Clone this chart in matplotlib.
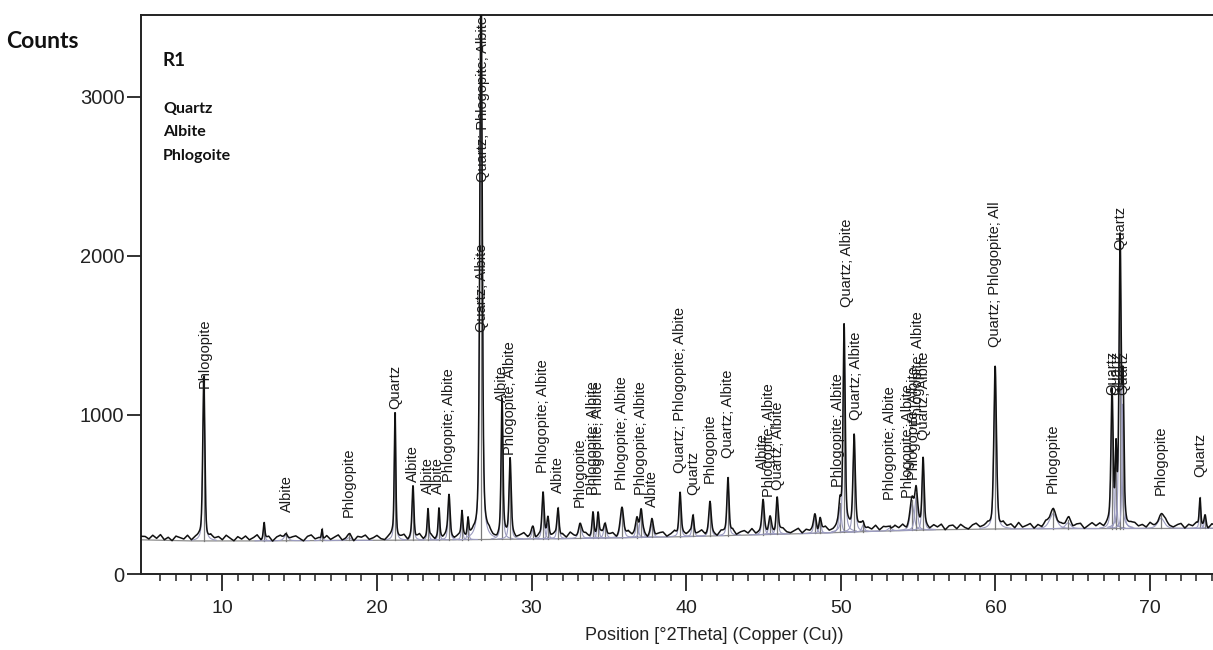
import numpy as np
import matplotlib
matplotlib.use("Agg")
import matplotlib.pyplot as plt
from matplotlib.ticker import FixedLocator

# ---------------- data ----------------
# peak positions [deg 2theta], apex intensity [counts], FWHM [deg]
peak_pos = [8.80, 12.70, 14.12, 16.45, 18.19, 21.17, 22.33, 23.30, 24.01, 24.66,
            25.50, 25.89, 26.73, 28.09, 28.61, 30.09, 30.74, 31.06, 31.71, 33.13,
            33.97, 34.30, 34.75, 35.85, 36.82, 37.08, 37.79, 39.60, 40.44, 41.54,
            42.70, 44.97, 45.42, 45.88, 48.33, 48.66, 49.95, 50.21, 50.86, 51.44,
            53.18, 54.61, 54.87, 55.32, 59.98, 63.73, 64.70, 67.54, 67.80, 68.06,
            68.25, 70.71, 73.23, 73.56]
peak_apex = [1252, 327, 264, 290, 245, 1013, 547, 403, 403, 490,
             371, 340, 3800, 1082, 717, 296, 516, 340, 421, 321,
             384, 384, 327, 415, 340, 409, 333, 516, 377, 447,
             610, 453, 358, 484, 371, 352, 447, 1553, 874, 327,
             308, 465, 509, 730, 1302, 400, 340, 1120, 736, 2070,
             1126, 370, 484, 371]
peak_fwhm = [0.16, 0.12, 0.30, 0.10, 0.30, 0.12, 0.14, 0.12, 0.12, 0.16,
             0.12, 0.12, 0.18, 0.14, 0.16, 0.20, 0.16, 0.14, 0.16, 0.25,
             0.14, 0.14, 0.20, 0.25, 0.20, 0.20, 0.20, 0.16, 0.16, 0.18,
             0.16, 0.18, 0.20, 0.16, 0.20, 0.16, 0.20, 0.16, 0.18, 0.20,
             0.30, 0.30, 0.22, 0.16, 0.20, 0.55, 0.40, 0.16, 0.12, 0.16,
             0.14, 0.50, 0.12, 0.14]

# smooth background (grey line)
bg_pos = [4.74, 8, 12, 16, 20, 24, 28, 32, 36, 40, 44, 48, 52, 56, 60, 64, 68, 74.1]
bg_counts = [215, 208, 208, 210, 212, 214, 218, 222, 228, 235, 245, 255, 268, 278,
             283, 285, 286, 287]
obs_offset = 16  # measured trace sits this far above the background line

# scan-to-scan wiggle of the measured trace (counts), every 0.25 deg from 5 deg
ripple_start, ripple_step = 5.0, 0.25
ripple = [6, -10, 14, -5, 19, -13, 3, -18, 11, 2, -8, 16, -14, 5, 10, -6, -19, 13, -3, 8,
          -11, 18, 0, -16, 10, -5, 14, -10, 3, 21, -13, -2, 11, -19, 6, 16, -8, -14, 5, 13,
          -3, -18, 10, 19, -6, 2, -13, 14, -10, 5, 18, -14, -5, 11, -21, 8, 3, 16, -11, -2,
          13, -8, -16, 6, 21, -10, 0, 14, -19, 10, -5, 18, -13, 3, 11, -16, 8, -6, 19, -2,
          -14, 5, 16, -11, 2, 13, -18, 8, -3, 19, -10, -21, 6, 14, -5, 11, -13, 3, 18, -8,
          10, -19, 5, -6, 16, -2, 13, -14, 8, -11, 21, 0, -16, 6, 14, -10, 3, -5, 18, -13,
          2, 11, -18, 10, -8, 19, -3, 14, -13, 5, -21, 16, -6, 8, 13, -14, 0, 18, -10, 6,
          -5, 14, -16, 3, 19, -11, 10, -2, -19, 13, 5, -8, 16, -14, 2, 11, -6, 21, -10, 0,
          14, -13, 6, -18, 10, 18, -5, -11, 3, 16, -14, 8, -2, 13, -19, 5, 19, -8, -3, 11,
          -16, 6, 14, -10, 0, 21, -13, 5, -6, 18, -11, 10, 2, -18, 13, -3, 16, -14, 8, -5,
          19, -10, 3, -14, 11, -2, 16, -19, 6, 10, -13, 14, -5, -16, 8, 18, -6, 0, 13, -11,
          5, -18, 16, -3, 10, -13, 21, -8, 2, 14, -16, 6, -10, 19, -2, 11, -14, 3, -6, 18,
          -11, 8, 13, -19, 0, 16, -5, 10, -14, 5, 18, -10, -2, 14, -18, 6, 11, -8, 3, -13,
          16, -6, -14, 10, 19, -3, -11, 5, 13, -16, 8, -2, 18, -10, 3, -19, 11, 0]

# peak annotations: position [deg], base of text [counts], text
label_pos = [8.88, 14.18, 18.19, 21.17, 22.33, 23.30, 23.95, 24.66, 26.86, 26.79,
             28.09, 28.61, 30.74, 31.71, 33.13, 33.97, 34.30, 35.85, 37.08, 37.79,
             39.60, 40.44, 41.54, 42.70, 44.97, 45.36, 45.94, 49.82, 50.40, 50.99,
             53.18, 54.35, 54.74, 55.00, 55.40, 59.98, 63.73, 67.54, 67.80, 68.06,
             68.25, 70.71, 73.23]
label_base = [1170, 390, 358, 1038, 579, 503, 503, 579, 2465, 1522,
              1082, 748, 635, 509, 421, 497, 497, 528, 497, 421,
              635, 497, 572, 730, 654, 484, 528, 547, 1679, 968,
              465, 478, 590, 937, 843, 1428, 509, 1126, 1126, 2038,
              1126, 497, 610]
label_text = ["Phlogopite", "Albite", "Phlogopite", "Quartz", "Albite", "Albite", "Albite",
              "Phlogopite; Albite", "Quartz; Phlogopite; Albite", "Quartz; Albite",
              "Albite", "Phlogopite; Albite", "Phlogopite; Albite", "Albite", "Phlogopite",
              "Phlogopite; Albite", "Phlogopite; Albite", "Phlogopite; Albite",
              "Phlogopite; Albite", "Albite", "Quartz; Phlogopite; Albite", "Quartz",
              "Phlogopite", "Quartz; Albite", "Albite", "Phlogopite; Albite",
              "Quartz; Albite", "Phlogopite; Albite", "Quartz; Albite", "Quartz; Albite",
              "Phlogopite; Albite", "Phlogopite; Albite", "Phlogopite; Albite",
              "Phlogopite; Albite", "Quartz; Albite", "Quartz; Phlogopite; All",
              "Phlogopite", "Quartz", "Quartz", "Quartz", "Quartz", "Phlogopite", "Quartz"]

phases = ["Quartz", "Albite", "Phlogoite"]
sample_name = "R1"
x_ticks = [10, 20, 30, 40, 50, 60, 70]
y_ticks = [0, 1000, 2000, 3000]
x_range = (4.74, 74.07)
y_range = (0, 3515)

# ---------------- build the curves ----------------
x = np.arange(x_range[0], x_range[1], 0.01)
bg = np.interp(x, bg_pos, bg_counts)
ripple_x = ripple_start + ripple_step * np.arange(len(ripple))
obs = bg + obs_offset + np.interp(x, ripple_x, ripple)


def profile(xx, pos, fwhm):
    g = np.exp(-4 * np.log(2) * ((xx - pos) / fwhm) ** 2)
    lo = 1.0 / (1.0 + 4 * ((xx - pos) / fwhm) ** 2)
    return 0.5 * g + 0.5 * lo


profiles = []
for p, a, w in zip(peak_pos, peak_apex, peak_fwhm):
    net = a - np.interp(p, bg_pos, bg_counts) - obs_offset
    prof = net * profile(x, p, w)
    profiles.append((p, a, w, prof))
    obs = obs + prof

# ---------------- figure ----------------
W, H = 1213, 650
fig = plt.figure(figsize=(W / 100, H / 100), dpi=100)
ax = fig.add_axes([141 / W, (H - 574) / H, 1 - 141 / W, (574 - 15) / H])
ax.set_xlim(*x_range)
ax.set_ylim(*y_range)

# background line
ax.plot(bg_pos, bg_counts, color="#8c8c8c", lw=0.9, zorder=2)
# individual fitted profiles + sticks
for p, a, w, prof in profiles:
    m = np.abs(x - p) < 5 * w
    ax.plot(x[m], bg[m] + 0.95 * prof[m], color="#9c9cc0", lw=0.8, zorder=2)
    ax.plot([p, p], [np.interp(p, bg_pos, bg_counts), a], color="#7a7a7a", lw=0.9,
            zorder=2)
# measured trace
ax.plot(x, obs, color="#111111", lw=1.1, zorder=3)

# annotations
for p, b, t in zip(label_pos, label_base, label_text):
    ax.text(p, b, t, rotation=90, ha="center", va="bottom", fontsize=10.5,
            family=["Liberation Sans", "DejaVu Sans"], color="#1a1a1a", zorder=4)

# axes styling
ax.spines["right"].set_visible(False)
for s in ["left", "bottom", "top"]:
    ax.spines[s].set_linewidth(1.4)
    ax.spines[s].set_color("#222222")
ax.xaxis.set_major_locator(FixedLocator(x_ticks))
ax.xaxis.set_minor_locator(FixedLocator([v for v in range(6, 75) if v % 10]))
ax.yaxis.set_major_locator(FixedLocator(y_ticks))
ax.tick_params(axis="x", which="major", direction="out", length=12, width=1.3,
               pad=7, labelsize=14, colors="#222222")
ax.tick_params(axis="x", which="minor", direction="out", length=5, width=1.1,
               colors="#222222")
ax.tick_params(axis="y", which="major", direction="out", length=10, width=1.3,
               pad=2, labelsize=14.5, colors="#222222")
tick_font = ["Liberation Sans Narrow", "Liberation Sans"]
for lab in ax.get_xticklabels() + ax.get_yticklabels():
    lab.set_family(tick_font)

fig.text(714 / W, 1 - 636 / H, "Position [°2Theta] (Copper (Cu))", ha="center",
         va="center", fontsize=13, family=tick_font, color="#222222")
fig.text(6 / W, 1 - 41 / H, "Counts", ha="left", va="center", fontsize=16.5,
         fontweight="bold", family=["Lato", "DejaVu Sans"], color="#111111")
fig.text(163 / W, 1 - 61 / H, sample_name, ha="left", va="center", fontsize=13.5,
         fontweight="bold", family=["Lato", "DejaVu Sans"], color="#111111")
for i, ph in enumerate(phases):
    fig.text(163 / W, 1 - (109 + 23.5 * i) / H, ph, ha="left", va="center",
             fontsize=11.5, fontweight="bold", family=["Lato", "DejaVu Sans"],
             color="#111111")

fig.savefig("out.png", dpi=100)
